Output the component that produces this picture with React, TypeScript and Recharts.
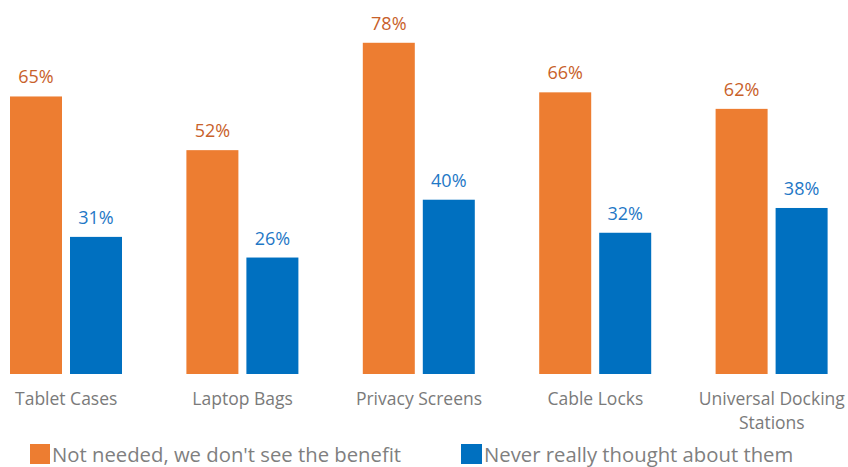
import React from "react";
import { BarChart, Bar, XAxis, YAxis, LabelList, Legend, Text } from "recharts";

const categories = ["Tablet Cases", "Laptop Bags", "Privacy Screens", "Cable Locks", "Universal Docking Stations"];
const notNeeded = [65, 52, 78, 66, 62];
const neverThought = [31, 26, 40, 32, 38];

const seriesNames = ["Not needed, we don't see the benefit", "Never really thought about them"];

const ORANGE = "#ED7D31";
const BLUE = "#0070C0";
const FONT = "'Open Sans', 'Noto Sans', sans-serif";

const data = categories.map((name, i) => ({
  name,
  notNeeded: notNeeded[i],
  neverThought: neverThought[i],
}));

// bars run down to the bottom of the plot area, like the original
const FullBar = (props: any) => {
  const { x, y, width, background, fill } = props;
  const bottom = background ? background.y + background.height : y + props.height;
  return <rect x={x} y={y} width={width} height={Math.max(0, bottom - y)} fill={fill} />;
};

const CategoryTick = (props: any) => {
  const { x, y, payload } = props;
  return (
    <Text x={x} y={y} width={165} textAnchor="middle" verticalAnchor="start" lineHeight={24}
      style={{ fontFamily: FONT, fontSize: 17.5, fill: "#7a7a7a" }}>
      {payload.value}
    </Text>
  );
};

const ChartLegend = () => (
  <div style={{ position: "relative", height: 30, fontFamily: FONT, fontSize: 20.3, color: "#7f7f7f" }}>
    <div style={{ position: "absolute", left: 52, top: 7, display: "flex", alignItems: "center", whiteSpace: "nowrap" }}>
      <span style={{ width: 20, height: 20, background: ORANGE, marginRight: 2, display: "inline-block" }} />
      <span style={{ lineHeight: "20px" }}>{seriesNames[0]}</span>
    </div>
    <div style={{ position: "absolute", left: 483, top: 7, display: "flex", alignItems: "center", whiteSpace: "nowrap" }}>
      <span style={{ width: 21, height: 20, background: BLUE, marginRight: 2, display: "inline-block" }} />
      <span style={{ lineHeight: "20px" }}>{seriesNames[1]}</span>
    </div>
  </div>
);

export default function App() {
  return (
    <div style={{ position: "absolute", left: 0, top: 0, width: 848, height: 467, overflow: "hidden" }}>
      <div style={{ marginLeft: -22, width: 882, height: 467 }}>
        <BarChart width={882} height={467} data={data} barSize={52} barGap={8}
          margin={{ top: 18, right: 0, bottom: 0, left: 0 }}>
          <XAxis dataKey="name" axisLine={false} tickLine={false} tickSize={0} tickMargin={19}
            height={63} interval={0} tick={<CategoryTick />} />
          <YAxis hide domain={[-2.2, 84]} />
          <Legend verticalAlign="bottom" content={<ChartLegend />} wrapperStyle={{ left: 0, width: 882 }} />
          <Bar dataKey="notNeeded" name={seriesNames[0]} fill={ORANGE} shape={<FullBar />} isAnimationActive={false}>
            <LabelList dataKey="notNeeded" position="top" offset={13} formatter={(v: any) => `${v}%`}
              style={{ fontFamily: FONT, fontSize: 18, fill: "#C8612A" }} />
          </Bar>
          <Bar dataKey="neverThought" name={seriesNames[1]} fill={BLUE} shape={<FullBar />} isAnimationActive={false}>
            <LabelList dataKey="neverThought" position="top" offset={13} formatter={(v: any) => `${v}%`}
              style={{ fontFamily: FONT, fontSize: 18, fill: "#1F78C6" }} />
          </Bar>
        </BarChart>
      </div>
    </div>
  );
}
